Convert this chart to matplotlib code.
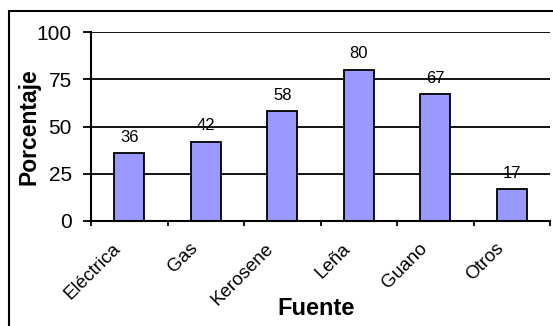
import matplotlib
matplotlib.use('Agg')
import matplotlib.pyplot as plt
from matplotlib.patches import Rectangle
from matplotlib.transforms import ScaledTranslation
import numpy as np

# Data
fuentes = ['Eléctrica', 'Gas', 'Kerosene', 'Leña', 'Guano', 'Otros']
porcentaje = [36, 42, 58, 80, 67, 17]
yticks = [0, 25, 50, 75, 100]

plt.rcParams['font.family'] = ['Liberation Sans', 'DejaVu Sans']

fig = plt.figure(figsize=(5.53, 3.26), dpi=100)
W, H = 553, 326

# outer chart frame (cut off at right and bottom in the reference)
fig.patches.append(Rectangle((9 / W, -0.1), 1.2, 1 - 11 / H + 0.1,
                             transform=fig.transFigure, fill=False,
                             edgecolor='black', linewidth=1.5))

ax = fig.add_axes([91 / W, 1 - 221 / H, (550 - 91) / W, (221 - 32) / H])

x = np.arange(len(fuentes))
ax.bar(x, porcentaje, width=0.39, color='#9999FF',
       edgecolor='black', linewidth=1.3, zorder=3)

for xi, v in zip(x, porcentaje):
    ax.annotate(str(v), (xi, v), xytext=(0, 6), textcoords='offset points',
                ha='center', va='bottom', fontsize=12)

ax.set_xlim(-0.5, len(fuentes) - 0.5)
ax.set_ylim(0, 100)
ax.set_yticks(yticks)
ax.tick_params(axis='y', labelsize=15, length=5.8, width=1.3,
               direction='out', pad=8)
ax.yaxis.grid(True, color='black', linewidth=1.3, zorder=0)

# x ticks between categories, labels at centers
ax.set_xticks(x)
ax.set_xticklabels(fuentes, rotation=45, ha='right', va='center',
                   rotation_mode='anchor', fontsize=13.5)
ax.tick_params(axis='x', which='major', length=0, pad=18)
shift = ScaledTranslation(-0.11, 0, fig.dpi_scale_trans)
for lab in ax.get_xticklabels():
    lab.set_transform(lab.get_transform() + shift)
ax.set_xticks(np.arange(len(fuentes) + 1) - 0.5, minor=True)
ax.tick_params(axis='x', which='minor', length=3.6, width=1.3, direction='out')

for s in ['top', 'right']:
    ax.spines[s].set_visible(False)
for s in ['left', 'bottom']:
    ax.spines[s].set_linewidth(1.5)
    ax.spines[s].set_zorder(4)

ax.set_ylabel('Porcentaje', fontsize=16.5, fontweight='bold')
ax.yaxis.set_label_coords(-0.110, 0.5)
ax.set_xlabel('Fuente', fontsize=17, fontweight='bold')
ax.xaxis.set_label_coords(0.49, -0.40)

fig.savefig('out.png', dpi=100)
